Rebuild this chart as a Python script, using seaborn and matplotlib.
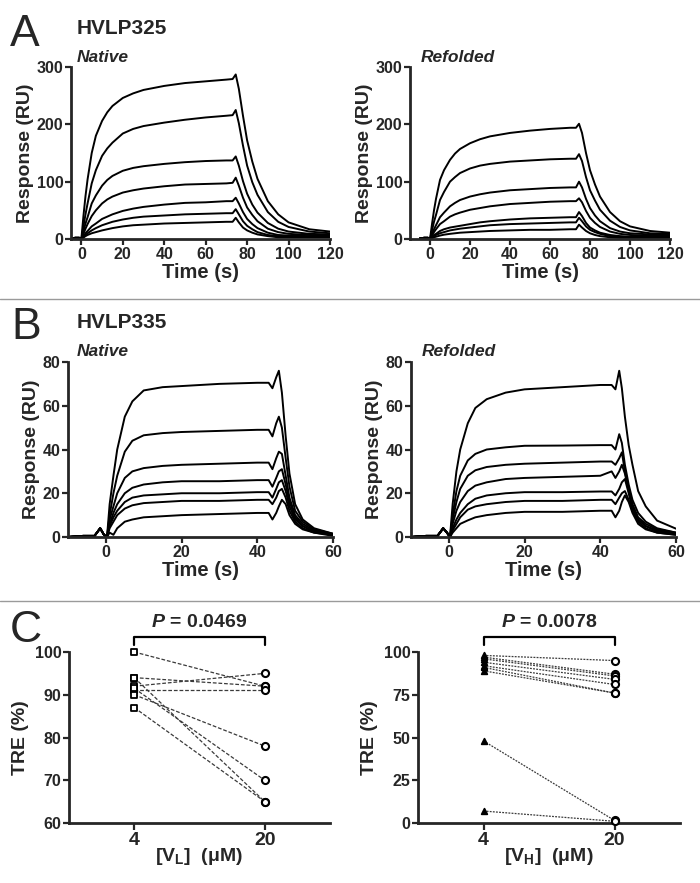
import pandas as pd
import matplotlib
matplotlib.use("Agg")
import matplotlib.pyplot as plt
import matplotlib.transforms as mtransforms
from matplotlib.lines import Line2D
import seaborn as sns

# ---- A: HVLP325 sensorgrams (time s, response RU), one list per concentration ----
t_a = [-5, -3, -1, 0, 1, 2, 3, 5, 7, 10, 12.5, 15, 20, 25, 30, 40, 50, 60, 70, 73, 74.5,
       76, 78, 80, 82.5, 85, 90, 95, 100, 110, 120]
a_native = [
    [1, 2, 2, 0, 40, 75, 104, 150, 180, 206, 221, 232, 246, 254, 260, 267, 272, 275, 278, 279, 287, 262, 215, 172, 135, 105, 66, 43, 29, 17, 13],
    [1, 2, 2, 0, 22, 43, 62, 97, 120, 145, 158, 168, 184, 192, 197, 203, 208, 212, 215, 216, 225, 202, 163, 128, 99, 77, 47, 30, 21, 13, 10],
    [1, 2, 2, 0, 14, 27, 38, 62, 76, 93, 103, 110, 119, 124, 127, 131, 134, 136, 137, 137, 144, 128, 101, 79, 60, 46, 28, 18, 13, 9, 8],
    [1, 2, 2, 0, 9, 18, 26, 40, 50, 62, 69, 74, 81, 85, 88, 92, 95, 96, 97, 98, 107, 93, 72, 55, 42, 31, 18, 12, 9, 7, 6],
    [1, 2, 2, 0, 5, 10, 14, 22, 27, 35, 39, 43, 49, 53, 56, 60, 63, 64, 66, 66, 72, 62, 47, 35, 26, 19, 11, 7, 6, 5, 5],
    [1, 2, 2, 0, 3.5, 7, 10, 15, 19, 24, 27, 30, 34, 37, 39, 41, 43, 44, 45, 45, 52, 43, 31, 23, 17, 12, 7, 5, 4, 4, 4],
    [1, 2, 2, 0, 2.5, 5, 7, 10, 12, 15, 17, 19, 22, 24, 25, 27, 28, 29, 30, 30, 37, 29, 20, 15, 11, 8, 5, 3, 3, 3, 3],
]
a_refolded = [
    [1, 2, 2, 0, 26, 50, 70, 103, 120, 138, 149, 157, 167, 174, 179, 185, 189, 192, 194, 194, 201, 185, 150, 120, 95, 74, 47, 31, 22, 14, 11],
    [1, 2, 2, 0, 15, 30, 42, 68, 82, 100, 108, 115, 123, 128, 131, 135, 137, 139, 140, 140, 148, 136, 108, 85, 67, 51, 32, 21, 15, 10, 9],
    [1, 2, 2, 0, 9, 17, 24, 38, 46, 57, 63, 68, 74, 78, 81, 85, 87, 89, 90, 90, 100, 90, 70, 54, 41, 31, 19, 13, 10, 8, 7],
    [1, 2, 2, 0, 6, 12, 17, 26, 31, 39, 43, 46, 51, 54, 57, 61, 63, 65, 66, 66, 71, 64, 49, 37, 28, 21, 13, 9, 7, 6, 6],
    [1, 2, 2, 0, 3.5, 7, 9, 14, 17, 20, 21.5, 23, 26, 29, 31, 34, 36, 37, 38, 38, 47, 40, 28, 20, 15, 11, 7, 5, 4, 4, 4],
    [1, 2, 2, 0, 2.5, 5, 7, 10, 12, 15, 16.5, 18, 20, 22, 24, 26, 27, 28, 29, 29, 37, 31, 22, 16, 12, 9, 5, 4, 3, 3, 3],
    [1, 2, 2, 0, 1.5, 3, 4, 6, 7.5, 9, 10, 11, 12, 13, 14, 15, 16, 16, 17, 17, 25, 20, 14, 10, 7, 5, 3, 2, 2, 2, 2],
]

# ---- B: HVLP335 sensorgrams ----
t_b = [-10, -6, -3, -1.5, -0.5, 0.3, 1, 2, 3, 5, 7, 10, 15, 20, 30, 40, 43, 44,
       45, 45.7, 46.5, 47.5, 48.5, 50, 52, 55, 60]
b_native = [
    [0, 0.5, 0.5, 4, 1, 0, 15, 28, 40, 55, 62, 67, 68.5, 69, 70, 70.5, 70.5, 68, 73, 76, 66, 46, 29, 15, 8, 4, 1.5],
    [0, 0.5, 0.5, 4, 1, 0, 10, 20, 28, 39, 44, 46.5, 47.5, 48, 48.5, 49, 49, 46, 52, 55, 50, 36, 23, 12, 7, 3.5, 1.5],
    [0, 0.5, 0.5, 4, 1, 0, 8, 14, 20, 27, 30, 31.5, 32.5, 33, 33.5, 34, 34, 31, 36, 39, 38, 28, 18, 10, 6, 3, 1],
    [0, 0.5, 0.5, 4, 1, 0, 6, 11, 15, 20, 22.5, 24, 25, 25.5, 25.5, 26, 26, 23, 27, 30, 31, 24, 16, 9, 5, 2.5, 1],
    [0, 0.5, 0.5, 4, 1, 0, 5, 9, 12, 16, 18, 19, 19.5, 20, 20, 20.5, 20.5, 18, 22, 25, 26, 21, 14, 8, 5, 2.5, 1],
    [0, 0.5, 0.5, 4, 1, 0, 4, 7, 10, 13, 14.5, 15.5, 16, 16.5, 16.5, 17, 17, 15, 18, 21, 22, 18, 12, 7, 4, 2, 1],
    [0, 0.5, 0.5, 4, 1, 0, 2, 1, 4, 7, 8, 9, 9.5, 10, 10.5, 11, 11, 8, 11, 14, 17, 15, 10, 6, 3.5, 2, 0.5],
]
b_refolded = [
    [0, 0.5, 0.5, 4, 2, 0, 15, 30, 40, 52, 59, 63, 66, 67.5, 68.5, 69.5, 69.5, 67.5, 76, 68, 55, 42, 33, 21, 14, 7.5, 3.8],
    [0, 0.5, 0.5, 4, 2, 0, 10, 21, 28, 35, 38, 40, 41, 41.7, 41.8, 42, 42, 40, 47, 43, 33, 24, 17, 11, 7, 4, 2],
    [0, 0.5, 0.5, 4, 2, 0, 8, 16, 22, 28, 30.5, 32, 33, 33.5, 34, 34.5, 34.5, 33, 36, 38.7, 30, 22, 15, 9, 6, 3.5, 2],
    [0, 0.5, 0.5, 4, 2, 0, 6, 12, 16, 21, 23.5, 25, 26.5, 27, 27.5, 28, 30, 27, 30, 33, 29, 21, 14, 8, 5, 3, 1.5],
    [0, 0.5, 0.5, 4, 2, 0, 4, 8, 11, 15, 17.5, 19, 20, 20.5, 20.5, 20.8, 20.8, 19, 22, 25, 26.5, 20, 13, 8, 5, 2.5, 1.5],
    [0, 0.5, 0.5, 4, 2, 0, 3, 6, 9, 12.5, 14, 15, 16, 16.5, 16.5, 17, 17, 15, 18, 20, 21, 17, 12, 7, 4, 2, 1],
    [0, 0.5, 0.5, 4, 2, 0, 2, 4, 6, 7.6, 9, 10, 11, 11.5, 11.5, 12, 12, 9, 12, 16, 19, 16, 11, 6, 3.5, 2, 1],
]

# ---- C: TRE (%) paired values at 4 and 20 uM ----
conc_labels = ["4", "20"]
vl_4uM = [100, 94, 94, 92, 91, 90, 91.5, 87]
vl_20uM = [92, 92, 65, 95, 91, 78, 70, 65]
vh_4uM = [98, 97, 96, 94, 92, 91, 89, 48, 7]
vh_20uM = [95, 87, 86, 84, 81, 76, 76, 1.5, 1]
p_vl = "0.0469"
p_vh = "0.0078"

sns.set_style("ticks")
plt.rcParams["font.family"] = ["Liberation Sans", "DejaVu Sans"]
plt.rcParams["font.weight"] = "bold"
plt.rcParams["axes.labelweight"] = "bold"
plt.rcParams["mathtext.fontset"] = "custom"
plt.rcParams["mathtext.rm"] = "Liberation Sans:bold"
plt.rcParams["mathtext.bf"] = "Liberation Sans:bold"
plt.rcParams["mathtext.bfit"] = "Liberation Sans:italic:bold"

fig = plt.figure(figsize=(7, 8.83), dpi=100)
W, H = 700.0, 883.0


def add_ax(x0, x1, y0, y1):
    return fig.add_axes([x0 / W, 1 - y1 / H, (x1 - x0) / W, (y1 - y0) / H])


def style(ax):
    sns.despine(ax=ax)
    for s in ["left", "bottom"]:
        ax.spines[s].set_linewidth(2)
    ax.tick_params(width=1.6, length=4, labelsize=11.5, pad=1.5)
    for lab in ax.get_xticklabels() + ax.get_yticklabels():
        lab.set_fontweight("bold")


def to_long(t, curves):
    rows = []
    for i, c in enumerate(curves):
        for tt, r in zip(t, c):
            rows.append((i, tt, r))
    return pd.DataFrame(rows, columns=["curve", "time", "resp"])


def sensorgram(ax, t, curves, xlim, xticks, ylim, yticks):
    df = to_long(t, curves)
    sns.lineplot(data=df, x="time", y="resp", units="curve", estimator=None,
                 color="black", lw=1.4, ax=ax)
    ax.set_xlim(*xlim)
    ax.set_ylim(*ylim)
    ax.set_xticks(xticks)
    ax.set_yticks(yticks)
    ax.set_xlabel("Time (s)", fontsize=14.5, labelpad=1)
    ax.set_ylabel("Response (RU)", fontsize=14, labelpad=2)
    style(ax)


# panel A
ax = add_ax(71, 330, 67, 239)
sensorgram(ax, t_a, a_native, (-5, 120), range(0, 121, 20), (0, 300), [0, 100, 200, 300])
ax = add_ax(410, 670, 67, 239)
sensorgram(ax, t_a, a_refolded, (-10, 120), range(0, 121, 20), (0, 300), [0, 100, 200, 300])

# panel B
ax = add_ax(68, 333, 362, 537)
sensorgram(ax, t_b, b_native, (-10, 60), [0, 20, 40, 60], (0, 80), [0, 20, 40, 60, 80])
ax = add_ax(411, 676, 362, 537)
sensorgram(ax, t_b, b_refolded, (-10, 60), [0, 20, 40, 60], (0, 80), [0, 20, 40, 60, 80])


def tre_panel(ax, left, right, lmark, lfill, ylim, yticks, sub, pval, ls):
    df = pd.DataFrame({
        "pair": list(range(len(left))) * 2,
        "x": [0] * len(left) + [1] * len(right),
        "tre": left + right,
    })
    sns.lineplot(data=df, x="x", y="tre", units="pair", estimator=None,
                 color="#3a3a3a", lw=0.9, ls=ls, ax=ax)
    ax.scatter([0] * len(left), left, marker=lmark, s=16,
               facecolors=lfill, edgecolors="black", linewidths=1.3, zorder=3, clip_on=False)
    ax.scatter([1] * len(right), right, marker="o", s=26,
               facecolors="white", edgecolors="black", linewidths=1.5, zorder=3, clip_on=False)
    ax.set_xlim(-0.5, 1.5)
    ax.set_ylim(*ylim)
    ax.set_yticks(yticks)
    ax.set_xticks([0, 1])
    ax.set_xticklabels(conc_labels)
    ax.set_xlabel("[V$_{\\mathbf{" + sub + "}}$]  (\u03bcM)", fontsize=14, labelpad=-2)
    ax.set_ylabel("TRE (%)", fontsize=14, labelpad=4)
    style(ax)
    ax.tick_params(axis="x", labelsize=14, length=5)
    # significance bracket
    tr = mtransforms.blended_transform_factory(ax.transData, ax.transAxes)
    ax.plot([0, 0, 1, 1], [1.04, 1.085, 1.085, 1.04], color="black", lw=1.6,
            transform=tr, clip_on=False)
    ax.text(0.5, 1.17, "$\\mathbfit{P}$ = " + pval, transform=tr, ha="center",
            va="center", fontsize=14, fontweight="bold")


ax = add_ax(69, 330, 652, 823)
tre_panel(ax, vl_4uM, vl_20uM, "s", "white", (60, 100), [60, 70, 80, 90, 100], "L", p_vl,
          (0, (3, 1.5)))
ax = add_ax(418, 680, 652, 823)
tre_panel(ax, vh_4uM, vh_20uM, "^", "black", (0, 100), [0, 25, 50, 75, 100], "H", p_vh,
          (0, (1.5, 1)))

# panel letters and titles
def ftext(x, y, s, **kw):
    fig.text(x / W, 1 - y / H, s, va="center", ha="left", **kw)


ftext(10, 34, "A", fontsize=32, fontweight="normal")
ftext(77, 28, "HVLP325", fontsize=15)
ftext(77, 58, "Native", fontsize=12.5, style="italic")
ftext(421, 58, "Refolded", fontsize=12.5, style="italic")
ftext(11, 327, "B", fontsize=32, fontweight="normal")
ftext(77, 322, "HVLP335", fontsize=15)
ftext(77, 352, "Native", fontsize=12.5, style="italic")
ftext(422, 352, "Refolded", fontsize=12.5, style="italic")
ftext(10, 630, "C", fontsize=32, fontweight="normal")

# separators between panels
for yy in [299, 601]:
    fig.add_artist(Line2D([0, 1], [1 - yy / H, 1 - yy / H], transform=fig.transFigure,
                          color="#9a9a9a", lw=1))

fig.savefig("out.png", dpi=100)
